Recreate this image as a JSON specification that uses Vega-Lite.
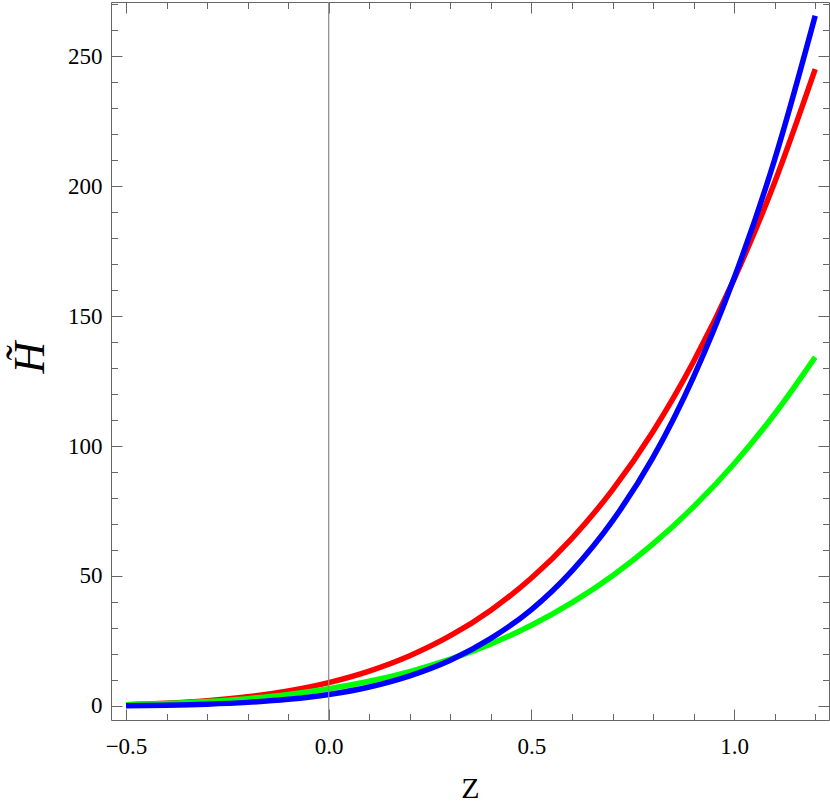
{
  "$schema": "https://vega.github.io/schema/vega-lite/v6.json",
  "width": 718,
  "height": 718,
  "autosize": {"type": "none"},
  "padding": {"left": 111, "top": 2, "right": 1, "bottom": 83},
  "background": "white",
  "config": {
    "view": {"stroke": "#666666", "strokeWidth": 1},
    "axis": {"grid": false, "domain": false, "tickColor": "#666666", "tickWidth": 1}
  },
  "datasets": {
    "curves": [
      {"s": "red", "z": -0.5, "H": 0.49}, {"s": "red", "z": -0.4, "H": 1.06}, {"s": "red", "z": -0.3, "H": 2.02},
      {"s": "red", "z": -0.2, "H": 3.53}, {"s": "red", "z": -0.1, "H": 5.79}, {"s": "red", "z": 0.0, "H": 9.0},
      {"s": "red", "z": 0.1, "H": 13.42}, {"s": "red", "z": 0.2, "H": 19.32}, {"s": "red", "z": 0.3, "H": 27.02},
      {"s": "red", "z": 0.4, "H": 36.86}, {"s": "red", "z": 0.5, "H": 49.21}, {"s": "red", "z": 0.6, "H": 64.49},
      {"s": "red", "z": 0.7, "H": 83.13}, {"s": "red", "z": 0.8, "H": 105.6}, {"s": "red", "z": 0.9, "H": 132.5},
      {"s": "red", "z": 1.0, "H": 164.2}, {"s": "red", "z": 1.1, "H": 201.5}, {"s": "red", "z": 1.2, "H": 245.0},
      {"s": "green", "z": -0.5, "H": 0.47}, {"s": "green", "z": -0.4, "H": 0.94}, {"s": "green", "z": -0.3, "H": 1.69},
      {"s": "green", "z": -0.2, "H": 2.82}, {"s": "green", "z": -0.1, "H": 4.41}, {"s": "green", "z": 0.0, "H": 6.6},
      {"s": "green", "z": 0.1, "H": 9.5}, {"s": "green", "z": 0.2, "H": 13.24}, {"s": "green", "z": 0.3, "H": 17.98},
      {"s": "green", "z": 0.4, "H": 23.87}, {"s": "green", "z": 0.5, "H": 31.06}, {"s": "green", "z": 0.6, "H": 39.74},
      {"s": "green", "z": 0.7, "H": 50.1}, {"s": "green", "z": 0.8, "H": 62.33}, {"s": "green", "z": 0.9, "H": 76.64},
      {"s": "green", "z": 1.0, "H": 93.19}, {"s": "green", "z": 1.1, "H": 112.3}, {"s": "green", "z": 1.2, "H": 134.2},
      {"s": "blue", "z": -0.5, "H": 0.12}, {"s": "blue", "z": -0.4, "H": 0.31}, {"s": "blue", "z": -0.3, "H": 0.69},
      {"s": "blue", "z": -0.2, "H": 1.38}, {"s": "blue", "z": -0.1, "H": 2.54}, {"s": "blue", "z": 0.0, "H": 4.4},
      {"s": "blue", "z": 0.1, "H": 7.3}, {"s": "blue", "z": 0.2, "H": 11.6}, {"s": "blue", "z": 0.3, "H": 17.6},
      {"s": "blue", "z": 0.4, "H": 26.0}, {"s": "blue", "z": 0.5, "H": 37.1}, {"s": "blue", "z": 0.6, "H": 52.0},
      {"s": "blue", "z": 0.7, "H": 71.2}, {"s": "blue", "z": 0.8, "H": 95.6}, {"s": "blue", "z": 0.9, "H": 126.6},
      {"s": "blue", "z": 1.0, "H": 164.6}, {"s": "blue", "z": 1.1, "H": 210.2}, {"s": "blue", "z": 1.2, "H": 265.5}
    ],
    "zero": [{"z": 0}]
  },
  "resolve": {"axis": {"x": "independent", "y": "independent"}},
  "layer": [
    {
      "data": {"name": "curves"},
      "transform": [{"filter": "datum.s == 'red'"}],
      "mark": {"type": "line", "color": "#FF0000", "strokeWidth": 5.5, "interpolate": "monotone"},
      "encoding": {
        "x": {"field": "z", "type": "quantitative",
          "scale": {"domain": [-0.537, 1.234], "nice": false, "zero": false},
          "axis": {"orient": "bottom", "values": [-0.5, 0, 0.5, 1], "format": ".1f",
            "tickSize": -11,
            "labelFont": "Times New Roman", "labelFontSize": 23, "labelColor": "black",
            "labelFlush": false, "labelOverlap": false,
            "labelPadding": 44, "labelBaseline": "alphabetic",
            "title": "Z", "titleFont": "Times New Roman", "titleFontSize": 30, "titleFontWeight": "normal",
            "titleColor": "black", "titleX": 359, "titleY": 77,
            "titleBaseline": "alphabetic", "titleAlign": "center"}},
        "y": {"field": "H", "type": "quantitative",
          "scale": {"domain": [-5.4, 270.8], "nice": false, "zero": false},
          "axis": {"orient": "left", "values": [0, 50, 100, 150, 200, 250],
            "tickSize": -11,
            "labelFont": "Times New Roman", "labelFontSize": 23, "labelColor": "black",
            "labelFlush": false, "labelOverlap": false,
            "labelPadding": 20,
            "title": "H̃", "titleFont": "Times New Roman", "titleFontSize": 44, "titleFontStyle": "italic",
            "titleFontWeight": "normal", "titleColor": "black", "titleAngle": 270,
            "titleX": -68, "titleY": 355, "titleAlign": "center", "titleBaseline": "alphabetic"}}
      }
    },
    {
      "data": {"name": "curves"},
      "transform": [{"filter": "datum.s == 'green'"}],
      "mark": {"type": "line", "color": "#00FF00", "strokeWidth": 5.5, "interpolate": "monotone"},
      "encoding": {
        "x": {"field": "z", "type": "quantitative",
          "scale": {"domain": [-0.537, 1.234], "nice": false, "zero": false},
          "axis": {"orient": "top", "values": [-0.5, 0, 0.5, 1], "labels": false, "tickSize": -11, "title": null}},
        "y": {"field": "H", "type": "quantitative",
          "scale": {"domain": [-5.4, 270.8], "nice": false, "zero": false},
          "axis": {"orient": "right", "values": [0, 50, 100, 150, 200, 250], "labels": false, "tickSize": -11, "title": null}}
      }
    },
    {
      "data": {"name": "curves"},
      "transform": [{"filter": "datum.s == 'blue'"}],
      "mark": {"type": "line", "color": "#0000FF", "strokeWidth": 5.5, "interpolate": "monotone"},
      "encoding": {
        "x": {"field": "z", "type": "quantitative",
          "scale": {"domain": [-0.537, 1.234], "nice": false, "zero": false},
          "axis": {"orient": "bottom", "values": [-0.4, -0.3, -0.2, -0.1, 0.1, 0.2, 0.3, 0.4, 0.6, 0.7, 0.8, 0.9, 1.1, 1.2],
            "labels": false, "tickSize": -6.5, "title": null}},
        "y": {"field": "H", "type": "quantitative",
          "scale": {"domain": [-5.4, 270.8], "nice": false, "zero": false},
          "axis": {"orient": "left", "values": [10, 20, 30, 40, 60, 70, 80, 90, 110, 120, 130, 140, 160, 170, 180, 190, 210, 220, 230, 240, 260, 270],
            "labels": false, "tickSize": -6.5, "title": null}}
      }
    },
    {
      "data": {"name": "curves"},
      "transform": [{"filter": "datum.s == 'red'"}],
      "mark": {"type": "line", "opacity": 0},
      "encoding": {
        "x": {"field": "z", "type": "quantitative",
          "scale": {"domain": [-0.537, 1.234], "nice": false, "zero": false},
          "axis": {"orient": "top", "values": [-0.4, -0.3, -0.2, -0.1, 0.1, 0.2, 0.3, 0.4, 0.6, 0.7, 0.8, 0.9, 1.1, 1.2],
            "labels": false, "tickSize": -6.5, "title": null}},
        "y": {"field": "H", "type": "quantitative",
          "scale": {"domain": [-5.4, 270.8], "nice": false, "zero": false},
          "axis": {"orient": "right", "values": [10, 20, 30, 40, 60, 70, 80, 90, 110, 120, 130, 140, 160, 170, 180, 190, 210, 220, 230, 240, 260, 270],
            "labels": false, "tickSize": -6.5, "title": null}}
      }
    },
    {
      "data": {"name": "zero"},
      "mark": {"type": "rule", "color": "#888888", "strokeWidth": 1.2},
      "encoding": {
        "x": {"field": "z", "type": "quantitative",
          "scale": {"domain": [-0.537, 1.234], "nice": false, "zero": false},
          "axis": {"labelOpacity": 0, "tickOpacity": 0, "titleOpacity": 0}}
      }
    }
  ]
}
